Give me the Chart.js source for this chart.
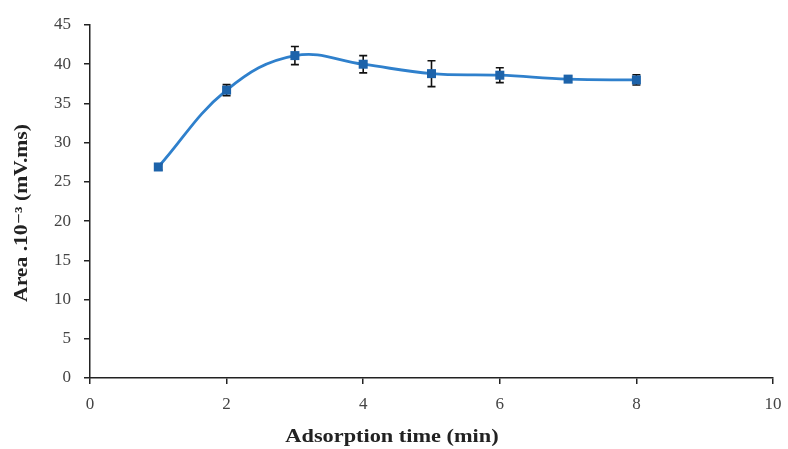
<!DOCTYPE html>
<html>
<head>
<meta charset="utf-8">
<script src="https://cdn.jsdelivr.net/npm/chart.js@4/dist/chart.umd.min.js"></script>
<style>
  html, body { margin: 0; padding: 0; background: #fff; }
  #wrap { width: 788px; height: 449px; position: relative; }
</style>
</head>
<body>
<div id="wrap"><canvas id="chart" width="788" height="449"></canvas></div>
<script>
// Adsorption time (min)
const times = [1, 2, 3, 4, 5, 6, 7, 8];
// Area .10^-3 (mV.ms)
const areas = [26.9, 36.7, 41.1, 40.0, 38.8, 38.6, 38.1, 38.0];
// standard deviation
const errors = [0.4, 0.7, 1.15, 1.1, 1.65, 0.95, 0.4, 0.65];

const xTicks = [0, 2, 4, 6, 8, 10];
const yTicks = [0, 5, 10, 15, 20, 25, 30, 35, 40, 45];

const xTitle = 'Adsorption time (min)';
const yTitle = 'Area .10⁻³ (mV.ms)';

const serif = "'Liberation Serif', 'DejaVu Serif', serif";

// error bars drawn through the chart scales
const errorBars = {
  id: 'errorBars',
  afterDatasetsDraw(chart) {
    const { ctx, scales } = chart;
    ctx.save();
    ctx.strokeStyle = '#111';
    ctx.lineWidth = 1.6;
    times.forEach((t, i) => {
      const x = scales.x.getPixelForValue(t);
      const yTop = scales.y.getPixelForValue(areas[i] + errors[i]);
      const yBot = scales.y.getPixelForValue(areas[i] - errors[i]);
      ctx.beginPath();
      ctx.moveTo(x, yTop); ctx.lineTo(x, yBot);
      ctx.moveTo(x - 4, yTop); ctx.lineTo(x + 4, yTop);
      ctx.moveTo(x - 4, yBot); ctx.lineTo(x + 4, yBot);
      ctx.stroke();
    });
    // markers on top of the bars
    const meta = chart.getDatasetMeta(0);
    ctx.fillStyle = '#1d63aa';
    meta.data.forEach(p => {
      ctx.fillRect(p.x - 4.5, p.y - 4.5, 9, 9);
    });
    ctx.restore();
  }
};

// axis titles, a bit wider than the plain font like in the original
const axisTitles = {
  id: 'axisTitles',
  afterDraw(chart) {
    const { ctx } = chart;
    ctx.save();
    ctx.fillStyle = '#222';
    ctx.font = 'bold 18px ' + serif;
    ctx.textAlign = 'center';
    ctx.textBaseline = 'middle';

    ctx.save();
    ctx.translate(392, 437);
    ctx.scale(1.24, 1);
    ctx.fillText(xTitle, 0, 0);
    ctx.restore();

    ctx.save();
    ctx.translate(22, 213);
    ctx.rotate(-Math.PI / 2);
    ctx.scale(1.2, 1);
    ctx.fillText(yTitle, 0, 0);
    ctx.restore();

    ctx.restore();
  }
};

new Chart(document.getElementById('chart').getContext('2d'), {
  type: 'line',
  data: {
    datasets: [{
      data: times.map((t, i) => ({ x: t, y: areas[i] })),
      borderColor: '#2f80cc',
      borderWidth: 2.8,
      tension: 0.4,
      pointRadius: 0,
      fill: false
    }]
  },
  options: {
    responsive: false,
    animation: false,
    layout: { padding: { top: 25, right: 15, left: 0, bottom: 0 } },
    plugins: { legend: { display: false }, tooltip: { enabled: false } },
    scales: {
      x: {
        type: 'linear',
        min: 0, max: 10,
        afterBuildTicks: s => { s.ticks = xTicks.map(v => ({ value: v })); },
        afterFit: s => { s.height = 71; s.paddingLeft = 0; s.paddingRight = 0; },
        grid: { drawOnChartArea: false, tickLength: 6, color: '#222', lineWidth: 1.5 },
        border: { color: '#222', width: 1.5 },
        ticks: { color: '#444', font: { family: serif, size: 17 }, padding: 10 }
      },
      y: {
        min: 0, max: 45,
        afterBuildTicks: s => { s.ticks = yTicks.map(v => ({ value: v })); },
        afterFit: s => { s.width = 90; s.paddingTop = 0; s.paddingBottom = 0; },
        grid: { drawOnChartArea: false, tickLength: 6, color: '#222', lineWidth: 1.5 },
        border: { color: '#222', width: 1.5 },
        ticks: { color: '#444', font: { family: serif, size: 17 }, padding: 13 }
      }
    }
  },
  plugins: [errorBars, axisTitles]
});
</script>
</body>
</html>
